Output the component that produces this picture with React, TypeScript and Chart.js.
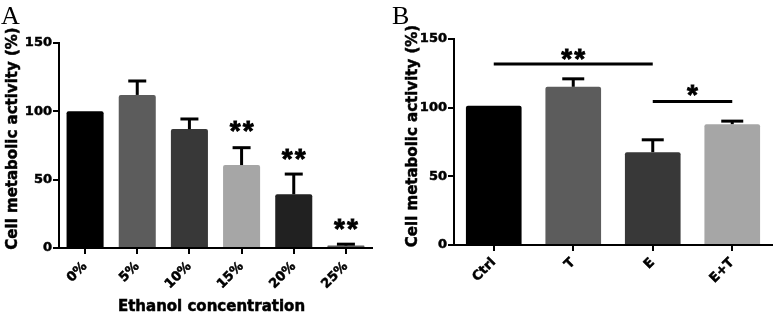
import React, { useEffect, useRef } from "react";
import { Chart, registerables } from "chart.js";

Chart.register(...registerables);

// ---------- Panel A data ----------
const catsA = ["0%", "5%", "10%", "15%", "20%", "25%"];
const valsA = [100, 112, 87, 60.7, 39.3, 1.8];
const errA = [0, 10.2, 7.4, 12.7, 14.8, 1];
const colorsA = ["#000000", "#5c5c5c", "#383838", "#a6a6a6", "#212121", "#5c5c5c"];
const starsA = ["", "", "", "**", "**", "**"];
const starLevelA = [0, 0, 0, 88.7, 68.5, 17.3];

// ---------- Panel B data ----------
const catsB = ["Ctrl", "T", "E", "E+T"];
const valsB = [101.4, 115.2, 67.6, 88];
const errB = [0, 5.8, 9, 2.2];
const colorsB = ["#000000", "#5c5c5c", "#383838", "#a6a6a6"];
const sigFromB = [0, 2];
const sigToB = [2, 3];
const sigLevelB = [131.8, 104.5];
const sigLabelB = ["**", "*"];
const sigStarLevelB = [138.6, 112.3];

const yMin = 0;
const yMax = 150;
const yStep = 50;
const yTitle = "Cell metabolic activity (%)";
const xTitleA = "Ethanol concentration";

const SANS = "'DejaVu Sans', 'Liberation Sans', sans-serif";
const STAR_FONT = "'Liberation Sans', Arial, sans-serif";

function drawStars(ctx: CanvasRenderingContext2D, text: string, x: number, y: number) {
  ctx.save();
  ctx.font = `bold 28px ${STAR_FONT}`;
  ctx.textAlign = "center";
  ctx.textBaseline = "alphabetic";
  ctx.fillStyle = "#000";
  ctx.strokeStyle = "#000";
  ctx.lineWidth = 0.8;
  const m = ctx.measureText("*");
  const top = m.actualBoundingBoxAscent;
  const bottom = m.actualBoundingBoxDescent;
  const base = y + (top - bottom) / 2;
  const n = text.length;
  const spacing = 13;
  for (let k = 0; k < n; k++) {
    const cx = x + (k - (n - 1) / 2) * spacing;
    ctx.fillText("*", cx, base);
    ctx.strokeText("*", cx, base);
  }
  ctx.restore();
}

function heavyText(ctx: CanvasRenderingContext2D, text: string, x: number, y: number) {
  ctx.fillText(text, x, y);
  ctx.strokeText(text, x, y);
}

const annotPlugin = {
  id: "annot",
  afterDatasetsDraw(chart: any, _args: any, opts: any) {
    const ctx: CanvasRenderingContext2D = chart.ctx;
    const meta = chart.getDatasetMeta(0);
    const ys = chart.scales.y;
    const vals = chart.data.datasets[0].data as number[];
    ctx.save();
    ctx.strokeStyle = "#000";
    ctx.lineWidth = 3;
    ctx.lineCap = "butt";
    meta.data.forEach((bar: any, i: number) => {
      const e = opts.errors[i];
      if (!e) return;
      const y0 = ys.getPixelForValue(vals[i]);
      const y1 = ys.getPixelForValue(vals[i] + e);
      ctx.beginPath();
      ctx.moveTo(bar.x, y0);
      ctx.lineTo(bar.x, y1);
      ctx.stroke();
      ctx.beginPath();
      ctx.moveTo(bar.x - opts.capWidth / 2, y1);
      ctx.lineTo(bar.x + opts.capWidth / 2, y1);
      ctx.stroke();
    });
    ctx.restore();

    if (opts.stars) {
      meta.data.forEach((bar: any, i: number) => {
        const s = opts.stars[i];
        if (!s) return;
        drawStars(ctx, s, bar.x, ys.getPixelForValue(opts.starLevels[i]));
      });
    }
    if (opts.sigFrom) {
      ctx.save();
      ctx.strokeStyle = "#000";
      ctx.lineWidth = 2.8;
      opts.sigFrom.forEach((from: number, k: number) => {
        const to = opts.sigTo[k];
        const x0 = meta.data[from].x;
        const x1 = meta.data[to].x;
        const yl = ys.getPixelForValue(opts.sigLevel[k]);
        ctx.beginPath();
        ctx.moveTo(x0, yl);
        ctx.lineTo(x1, yl);
        ctx.stroke();
        drawStars(ctx, opts.sigLabel[k], (x0 + x1) / 2, ys.getPixelForValue(opts.sigStarLevel[k]));
      });
      ctx.restore();
    }
  },
  afterDraw(chart: any, _args: any, opts: any) {
    const ctx: CanvasRenderingContext2D = chart.ctx;
    const ca = chart.chartArea;
    ctx.save();
    ctx.fillStyle = "#000";
    // panel letter
    ctx.font = "26px 'Liberation Serif', serif";
    ctx.textAlign = "left";
    ctx.textBaseline = "alphabetic";
    ctx.fillText(opts.letter, opts.letterX, 24);
    // y title
    ctx.strokeStyle = "#000";
    ctx.lineWidth = 0.5;
    ctx.font = `bold 15px ${SANS}`;
    ctx.textAlign = "center";
    ctx.textBaseline = "middle";
    ctx.translate(opts.yTitleX, (ca.top + ca.bottom) / 2 + opts.yTitleShift);
    ctx.rotate(-Math.PI / 2);
    heavyText(ctx, yTitle, 0, 0);
    ctx.restore();
    if (opts.xTitle) {
      ctx.save();
      ctx.fillStyle = "#000";
      ctx.strokeStyle = "#000";
      ctx.lineWidth = 0.5;
      ctx.font = `bold 15px ${SANS}`;
      ctx.textAlign = "center";
      ctx.textBaseline = "middle";
      heavyText(ctx, opts.xTitle, (ca.left + ca.right) / 2 - 4, 307);
      ctx.restore();
    }
  },
};

type PanelProps = {
  width: number;
  height: number;
  labels: string[];
  values: number[];
  colors: string[];
  annot: any;
  yWidth: number;
  xHeight: number;
  padding: any;
  barPct: number;
  tickFont: number;
  tickPad: number;
};

function BarPanel(p: PanelProps) {
  const ref = useRef<HTMLCanvasElement | null>(null);
  useEffect(() => {
    if (!ref.current) return;
    const chart = new Chart(ref.current, {
      type: "bar",
      data: {
        labels: p.labels,
        datasets: [
          {
            data: p.values,
            backgroundColor: p.colors,
            borderWidth: 0,
            borderRadius: 2,
            barPercentage: p.barPct,
            categoryPercentage: 1,
          },
        ],
      },
      options: {
        animation: false,
        responsive: false,
        maintainAspectRatio: false,
        layout: { padding: p.padding },
        plugins: {
          legend: { display: false },
          tooltip: { enabled: false },
          title: { display: false },
          annot: p.annot,
        } as any,
        scales: {
          x: {
            offset: true,
            grid: {
              offset: false,
              drawOnChartArea: false,
              drawTicks: true,
              tickLength: 6,
              color: "#000",
              lineWidth: 2,
            },
            border: { display: true, color: "#000", width: 2 },
            ticks: {
              color: "#000",
              font: { family: SANS, size: p.tickFont, weight: "bold" },
              textStrokeColor: "#000",
              textStrokeWidth: 0.5,
              minRotation: 45,
              maxRotation: 45,
              padding: p.tickPad,
            },
            afterFit: (s: any) => {
              s.height = p.xHeight;
            },
          },
          y: {
            min: yMin,
            max: yMax,
            grid: {
              drawOnChartArea: false,
              drawTicks: true,
              tickLength: 6,
              color: "#000",
              lineWidth: 2,
            },
            border: { display: true, color: "#000", width: 2 },
            ticks: {
              stepSize: yStep,
              color: "#000",
              font: { family: SANS, size: 13, weight: "bold" },
              textStrokeColor: "#000",
              textStrokeWidth: 0.5,
              padding: 1,
            },
            afterFit: (s: any) => {
              s.width = p.yWidth;
            },
          },
        },
      } as any,
      plugins: [annotPlugin],
    });
    return () => chart.destroy();
  }, []);
  return <canvas ref={ref} width={p.width} height={p.height} style={{ display: "block", width: p.width, height: p.height }} />;
}

export default function App() {
  return (
    <div style={{ position: "fixed", left: 0, top: 0, width: 777, height: 317, background: "#fff", display: "flex" }}>
      <BarPanel
        width={390}
        height={317}
        labels={catsA}
        values={valsA}
        colors={colorsA}
        yWidth={59}
        xHeight={69}
        padding={{ top: 43, right: 18, left: 0, bottom: 0 }}
        barPct={0.71}
        tickFont={13}
        tickPad={5}
        annot={{
          errors: errA,
          capWidth: 18,
          stars: starsA,
          starLevels: starLevelA,
          letter: "A",
          letterX: 1,
          yTitleX: 13,
          yTitleShift: -7,
          xTitle: xTitleA,
        }}
      />
      <BarPanel
        width={387}
        height={317}
        labels={catsB}
        values={valsB}
        colors={colorsB}
        yWidth={64}
        xHeight={72}
        padding={{ top: 39, right: 5, left: 0, bottom: 0 }}
        barPct={0.7}
        tickFont={13}
        tickPad={4}
        annot={{
          errors: errB,
          capWidth: 22,
          sigFrom: sigFromB,
          sigTo: sigToB,
          sigLevel: sigLevelB,
          sigLabel: sigLabelB,
          sigStarLevel: sigStarLevelB,
          letter: "B",
          letterX: 2,
          yTitleX: 23,
          yTitleShift: -6,
        }}
      />
    </div>
  );
}
